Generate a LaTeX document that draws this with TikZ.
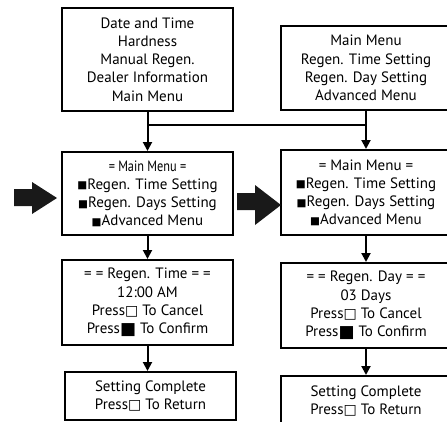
\documentclass[tikz,border=0pt]{standalone}
\usepackage{fontspec}
\setmainfont{PT Sans}
\newfontfamily\symfont{DejaVu Sans}
\usetikzlibrary{arrows.meta}

\newcommand{\bsq}{{\symfont\fontsize{10.5}{10}\selectfont\raisebox{0.5pt}{■}}}
\newcommand{\wsq}{{\symfont\fontsize{14}{14}\selectfont □}}
\newcommand{\bigsq}{{\symfont\fontsize{17}{17}\selectfont\raisebox{-1pt}{■}}}
\newcommand{\narrowtitle}[1]{\scalebox{0.82}[1]{#1}}

\begin{document}
\begin{tikzpicture}[x=1pt, y=-1pt, >={Triangle[length=9pt,width=9pt]},
  line width=2pt,
  menubox/.style={draw, minimum width=171pt, align=center, inner sep=0pt,
    font=\fontsize{15}{18.2}\selectfont},
  bigarrow/.style={fill=black!90, draw=none}]
  \useasboundingbox (0,0) rectangle (447,421);

  % top menus
  \node[menubox, minimum height=103pt] (mainL) at (147.5,59.5)
    {Date and Time\\Hardness\\Manual Regen.\\Dealer Information\\Main Menu};
  \node[menubox, minimum height=84pt] (mainR) at (366,68)
    {Main Menu\\Regen. Time Setting\\Regen. Day Setting\\Advanced Menu};

  % second row
  \node[menubox, minimum height=83pt] (menuL) at (147.5,193.5)
    {\narrowtitle{= Main Menu =}\\\bsq Regen. Time Setting\\\bsq Regen. Days Setting\\\bsq Advanced Menu};
  \node[menubox, minimum height=85pt] (menuR) at (366,192.5)
    {= Main Menu =\\\bsq Regen. Time Setting\\\bsq Regen. Days Setting\\\bsq Advanced Menu};

  % setting screens
  \node[menubox, minimum height=85pt] (timeL) at (147.5,302.5)
    {= = Regen. Time = =\\12:00 AM\\Press\wsq{} To Cancel\\Press\bigsq{} To Confirm};
  \node[menubox, minimum height=85pt] (dayR) at (366,305.5)
    {= = Regen. Day = =\\03 Days\\Press\wsq{} To Cancel\\Press\bigsq{} To Confirm};

  % done screens
  \node[menubox, minimum height=48pt] (doneL) at (150.5,396)
    {Setting Complete\\Press\wsq{} To Return};
  \node[menubox, minimum height=50pt] (doneR) at (366,401)
    {Setting Complete\\Press\wsq{} To Return};

  % fat arrows
  \fill[bigarrow] (14,189) -- (32,189) -- (32,182) -- (57,198) -- (32,214)
    -- (32,206) -- (14,206) -- cycle;
  \fill[bigarrow] (237,193) -- (255,193) -- (255,185) -- (281,205) -- (255,225)
    -- (255,210) -- (237,210) -- cycle;

  % connectors
  \coordinate (jL) at (mainL.south |- 0,125);
  \coordinate (jR) at (mainR.south |- 0,125);
  \draw (mainL.south) -- (jL) -- (jR);
  \draw (mainR.south) -- (jR);
  \draw[->] (jL) -- (menuL.north);
  \draw[->] (jR) -- (menuR.north);
  \draw[->] (menuL.south) -- (timeL.north);
  \draw[->] (timeL.south) -- (timeL.south |- doneL.north);
  \draw[->] (menuR.south) -- (dayR.north);
  \draw[->] (dayR.south) -- (doneR.north);
\end{tikzpicture}
\end{document}
